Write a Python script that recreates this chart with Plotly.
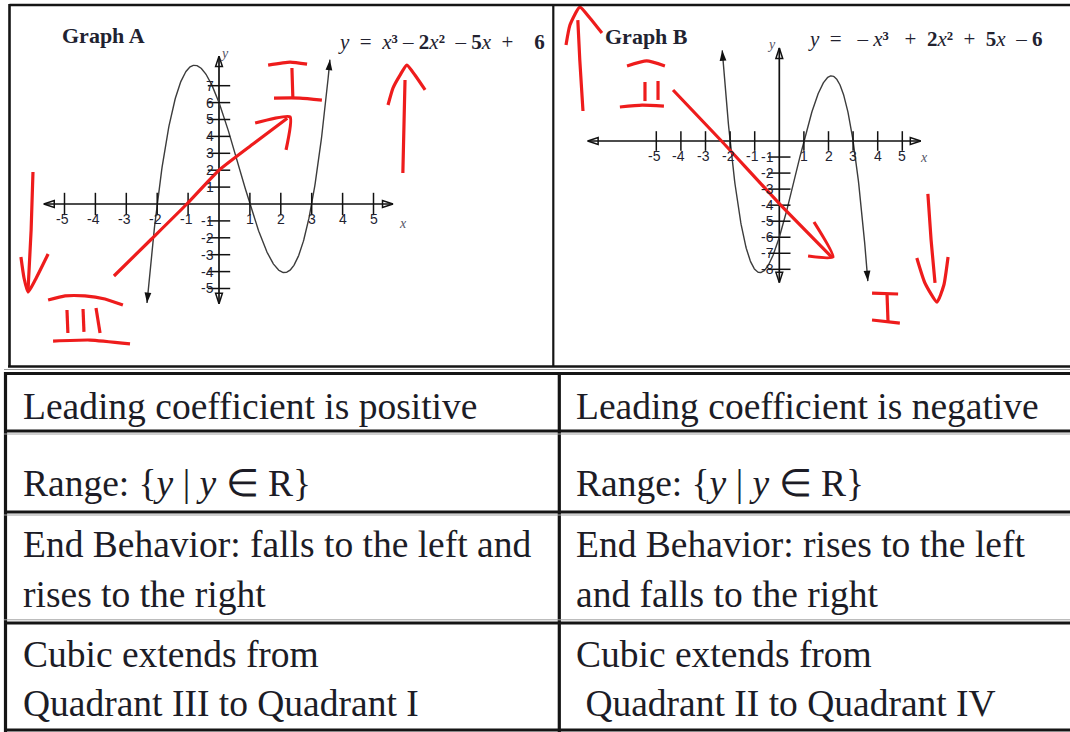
import numpy as np
import plotly.graph_objects as go

W, H = 1070, 732

# ---- the two cubics (coefficients, highest power first) ----
coef_a = [1, -2, -5, 6]
coef_b = [-1, 2, 5, -6]
span_a = [-2.33, 3.59]
span_b = [-2.32, 3.60]

# ---- axes of the hand-drawn grids ----
axis_x_a = [-5.67, 5.63]
axis_y_a = [-5.90, 8.75]
axis_x_b = [-7.79, 5.75]
axis_y_b = [-8.83, 5.80]

xticks_a = [-5, -4, -3, -2, -1, 1, 2, 3, 4, 5]
yticks_a = [-5, -4, -3, -2, -1, 1, 2, 3, 4, 5, 6, 7]
xticks_b = [-5, -4, -3, -2, -1, 1, 2, 3, 4, 5]
yticks_b = [-8, -7, -6, -5, -4, -3, -2, -1]

# ---- red pen strokes, in each graph's own units (None breaks a stroke) ----
ink_a_x = [
    -6.02, -6.08, -6.18, None,
    -6.41, -6.31, -6.18, -5.95, -5.53, None,
    -5.53, -4.98, -4.34, -3.69, -3.11, None,
    -4.92, -4.89, None,
    -4.40, -4.37, None,
    -3.98, -3.85, None,
    -5.37, -4.17, -2.88, None,
    -3.40, -2.20, -1.04, 0.00, 1.10, 2.21, None,
    1.17, 2.30, 2.17, None,
    1.59, 2.30, 2.85, None,
    2.36, 2.39, None,
    1.78, 2.62, 3.33, None,
    5.95, 5.99, 6.02, None,
    5.47, 5.63, 5.86, 6.08, 6.34, 6.67,
]
ink_a_y = [
    1.89, -1.54, -5.09, None,
    -3.14, -4.38, -5.21, -4.50, -2.96, None,
    -5.68, -5.44, -5.44, -5.62, -5.98, None,
    -6.27, -7.63, None,
    -6.21, -7.57, None,
    -6.15, -7.63, None,
    -8.11, -8.05, -8.28, None,
    -4.26, -2.10, 0.00, 2.00, 3.55, 5.07, None,
    4.79, 5.15, 3.20, None,
    8.22, 8.40, 8.28, None,
    8.05, 6.33, None,
    6.27, 6.27, 6.15, None,
    1.83, 4.97, 7.34, None,
    5.86, 6.86, 7.63, 8.22, 7.63, 6.75,
]
ink_b_x = [
    -7.98, -8.11, -8.19, None,
    -8.67, -8.51, -8.11, -7.70, -7.21, None,
    -6.19, -5.39, -4.65, None,
    -5.46, -5.46, None,
    -4.93, -4.93, None,
    -6.48, -5.58, -4.69, None,
    -4.32, -2.35, 0.00, 2.14, None,
    1.41, 2.18, 1.17, None,
    3.77, 4.83, None,
    4.38, 4.42, None,
    3.77, 4.90, None,
    6.04, 6.17, 6.33, None,
    5.59, 5.92, 6.41, 6.69, 6.86,
]
ink_b_y = [
    1.87, 5.05, 7.54, None,
    5.99, 7.23, 8.35, 7.67, 6.73, None,
    4.68, 4.99, 4.68, None,
    3.68, 2.49, None,
    3.74, 2.56, None,
    2.12, 2.24, 2.18, None,
    3.18, 0.00, -3.90, -7.25, None,
    -5.05, -7.23, -7.17, None,
    -9.48, -9.54, None,
    -9.60, -11.28, None,
    -11.16, -11.35, None,
    -3.30, -6.17, -8.85, None,
    -7.29, -8.85, -10.04, -8.98, -7.23,
]

# ---- table text ----
table_left = [
    ["Leading coefficient is positive"],
    ["Range: {<i>y</i> | <i>y</i> \u2208 R}"],
    ["End Behavior: falls to the left and", "rises to the right"],
    ["Cubic extends from", "Quadrant III to Quadrant I"],
]
table_right = [
    ["Leading coefficient is negative"],
    ["Range: {<i>y</i> | <i>y</i> \u2208 R}"],
    ["End Behavior: rises to the left", "and falls to the right"],
    ["Cubic extends from", "\u00a0Quadrant II to Quadrant IV"],
]
table_baselines = [[419], [496], [557, 607], [667, 716]]

NB = "\u00a0"
SUP2, SUP3 = "\u00b2", "\u00b3"
eq_a = ("<i>y</i>" + NB * 2 + "=" + NB * 2 + "<i>x</i><b>" + SUP3 + "</b>" + NB + "\u2013" + NB
        + "<b>2</b><i>x</i><b>" + SUP2 + "</b>" + NB * 2 + "\u2013" + NB + "<b>5</b><i>x</i>"
        + NB * 2 + "+" + NB * 4 + "<b>6</b>")
eq_b = ("<i>y</i>" + NB * 2 + "=" + NB * 3 + "\u2013" + NB + "<i>x</i><b>" + SUP3 + "</b>" + NB * 3
        + "+" + NB * 2 + "<b>2</b><i>x</i><b>" + SUP2 + "</b>" + NB * 2 + "+" + NB * 2
        + "<b>5</b><i>x</i>" + NB * 2 + "\u2013" + NB + "<b>6</b>")

# ---------------------------------------------------------------------------
INK = "#ee1c1c"
DARK = "#151515"
CURVE = "#3c3c3c"
SERIF = "Liberation Serif"
SANS = "Liberation Sans"


def px(x):
    return x / W


def py(y):
    return 1 - y / H


def axis_range(p0, p1, origin, scale, flip=False):
    # pixel edges -> data range, for a grid whose origin sits at `origin` px
    if flip:
        return [(origin - p1) / scale, (origin - p0) / scale]
    return [(p0 - origin) / scale, (p1 - origin) / scale]


fig = go.Figure()

panels = [
    dict(xa="x", ya="y", coef=coef_a, span=span_a, ax_x=axis_x_a, ax_y=axis_y_a,
         xt=xticks_a, yt=yticks_a, ink=(ink_a_x, ink_a_y), xt_size=16),
    dict(xa="x2", ya="y2", coef=coef_b, span=span_b, ax_x=axis_x_b, ax_y=axis_y_b,
         xt=xticks_b, yt=yticks_b, ink=(ink_b_x, ink_b_y), xt_size=14),
]


def arrow_tip(xa, ya, xs, ys, symbol, size, width=0):
    # a two-point trace whose second marker is an arrowhead aimed from point 1 to point 2
    fig.add_trace(go.Scatter(x=xs, y=ys, mode="markers", xaxis=xa, yaxis=ya,
                             hoverinfo="skip", cliponaxis=False,
                             marker=dict(symbol=symbol, size=size, angleref="previous",
                                         color="#111111",
                                         line=dict(width=width, color="#111111"))))


annotations = []
for p in panels:
    xa, ya = p["xa"], p["ya"]
    # axis lines
    x0, x1 = p["ax_x"]
    y0, y1 = p["ax_y"]
    fig.add_trace(go.Scatter(x=[x0, x1, None, 0, 0], y=[0, 0, None, y0, y1], mode="lines",
                             xaxis=xa, yaxis=ya, hoverinfo="skip", cliponaxis=False,
                             line=dict(color="#111111", width=1.7)))
    arrow_tip(xa, ya, [x0 + 0.3, x0], [0, 0], "arrow-open", 11, 1.5)
    arrow_tip(xa, ya, [x1 - 0.3, x1], [0, 0], "arrow-open", 11, 1.5)
    arrow_tip(xa, ya, [0, 0], [y0 + 0.5, y0], "arrow-open", 11, 1.5)
    arrow_tip(xa, ya, [0, 0], [y1 - 0.5, y1], "arrow-open", 11, 1.5)
    # the cubic itself
    xs = np.linspace(p["span"][0], p["span"][1], 400)
    ys = np.polyval(p["coef"], xs)
    fig.add_trace(go.Scatter(x=xs, y=ys, mode="lines", xaxis=xa, yaxis=ya,
                             line=dict(color=CURVE, width=1.4), hoverinfo="skip",
                             cliponaxis=False))
    # filled arrowheads at both ends of the curve
    for end, inner in ((p["span"][0], p["span"][0] + 0.06), (p["span"][1], p["span"][1] - 0.06)):
        ex = [inner, end]
        arrow_tip(xa, ya, ex, list(np.polyval(p["coef"], ex)), "arrow", 11)
    # tick marks
    fig.add_trace(go.Scatter(x=p["xt"], y=[0] * len(p["xt"]), mode="markers", xaxis=xa, yaxis=ya,
                             hoverinfo="skip", cliponaxis=False,
                             marker=dict(symbol="line-ns", size=p["xt_size"],
                                         line=dict(color="#111111", width=1.5))))
    fig.add_trace(go.Scatter(x=[0] * len(p["yt"]), y=p["yt"], mode="markers", xaxis=xa, yaxis=ya,
                             hoverinfo="skip", cliponaxis=False,
                             marker=dict(symbol="line-ew", size=16,
                                         line=dict(color="#111111", width=1.5))))
    # red pen strokes
    fig.add_trace(go.Scatter(x=p["ink"][0], y=p["ink"][1], mode="lines", xaxis=xa, yaxis=ya,
                             hoverinfo="skip", cliponaxis=False, connectgaps=False,
                             line=dict(color=INK, width=3.2, shape="spline", smoothing=0.5)))
    # tick labels
    for t in p["xt"]:
        annotations.append(dict(x=t, y=0, xref=xa, yref=ya, text=str(t), showarrow=False,
                                yshift=-15, xshift=-2 if t < 0 else 0,
                                font=dict(family=SANS, size=14, color="#222230")))
    for t in p["yt"]:
        annotations.append(dict(x=0, y=t, xref=xa, yref=ya, text=str(t), showarrow=False,
                                xanchor="right", xshift=-3,
                                font=dict(family=SANS, size=14, color="#222230")))

# axis letters
for (x, y, t) in [(403, 214, "x"), (218, 44, "y"), (930, 148, "x"), (778, 35, "y")]:
    annotations.append(dict(x=px(x), y=py(y), xref="paper", yref="paper", text=f"<i>{t}</i>",
                            showarrow=False, font=dict(family=SERIF, size=14, color="#555566")))

# graph titles and equations
for (x, yb, t) in [(60, 50, "<b>Graph A</b>"), (603, 51.5, "<b>Graph B</b>")]:
    annotations.append(dict(x=px(x), y=py(yb), xref="paper", yref="paper", text=t, showarrow=False,
                            xanchor="left", yanchor="bottom",
                            font=dict(family=SERIF, size=22, color="#222230")))
for (x, yb, t) in [(336, 56, eq_a), (806, 53, eq_b)]:
    annotations.append(dict(x=px(x), y=py(yb), xref="paper", yref="paper", text=t, showarrow=False,
                            xanchor="left", yanchor="bottom",
                            font=dict(family=SERIF, size=21, color="#222230")))

# table text
TSIZE = 37.5
for col_x, rows in ((21, table_left), (574, table_right)):
    for lines, bases in zip(rows, table_baselines):
        for line, base in zip(lines, bases):
            annotations.append(dict(x=px(col_x), y=py(base - 0.3375 * TSIZE), xref="paper",
                                    yref="paper", text=line, showarrow=False, xanchor="left",
                                    yanchor="middle",
                                    font=dict(family=SERIF, size=TSIZE, color="#1c1c26")))

# frame of the two graphs and of the table
shapes = []


def seg(x0, y0, x1, y1, w, c=DARK):
    shapes.append(dict(type="line", xref="paper", yref="paper", x0=px(x0), y0=py(y0),
                       x1=px(x1), y1=py(y1), line=dict(color=c, width=w)))


seg(9.5, 5, 1072, 5, 2.6)
seg(9.5, 4, 9.5, 367, 2.6)
seg(8, 366.5, 1072, 366.5, 2.6)
seg(553.3, 5, 553.3, 367, 2.2)
seg(4, 369.5, 1072, 369.5, 1.2, "#9a9a9a")
seg(4, 373.5, 1072, 373.5, 3.2)
seg(5.5, 372, 5.5, 732, 3.2)
seg(559.3, 373, 559.3, 732, 3.2)
for yy in (431, 512, 623, 730):
    seg(4, yy, 1072, yy, 3.2)
for yy in (434, 515, 619.8):
    seg(4, yy, 1072, yy, 1.0, "#a0a0a0")

GA_X = axis_range(10, 553, 219.0, 30.9)
GA_Y = axis_range(5, 367, 204.0, 16.9, flip=True)
GB_X = axis_range(553, 1070, 779.3, 24.6)
GB_Y = axis_range(5, 367, 141.0, 16.04, flip=True)

common = dict(visible=False, fixedrange=True)
fig.update_layout(
    width=W, height=H, margin=dict(l=0, r=0, t=0, b=0),
    paper_bgcolor="white", plot_bgcolor="rgba(0,0,0,0)", showlegend=False,
    xaxis=dict(domain=[px(10), px(553)], range=GA_X, anchor="y", **common),
    yaxis=dict(domain=[py(367), py(5)], range=GA_Y, anchor="x", **common),
    xaxis2=dict(domain=[px(553), 1.0], range=GB_X, anchor="y2", **common),
    yaxis2=dict(domain=[py(367), py(5)], range=GB_Y, anchor="x2", **common),
    annotations=annotations, shapes=shapes,
)

fig.write_html("out.html")
